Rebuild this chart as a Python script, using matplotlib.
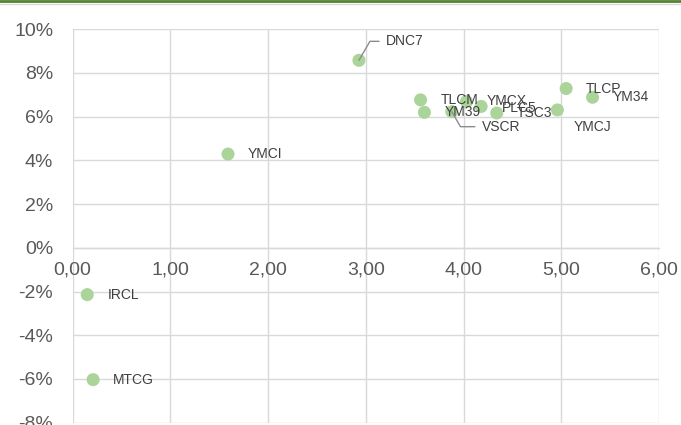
import matplotlib
matplotlib.use("Agg")
import matplotlib.pyplot as plt
from matplotlib.ticker import FuncFormatter, MultipleLocator
from matplotlib.lines import Line2D

# ---- data ----
names = ["DNC7", "YMCI", "IRCL", "MTCG", "TLCM", "YM39", "VSCR",
         "YMCX", "PLC5", "TSC3", "TLCP", "YM34", "YMCJ"]
x_vals = [2.93, 1.59, 0.15, 0.21, 3.56, 3.60, 3.88,
          4.03, 4.18, 4.34, 5.05, 5.32, 4.96]
y_vals = [8.58, 4.29, -2.14, -6.03, 6.77, 6.20, 6.23,
          6.69, 6.47, 6.17, 7.29, 6.89, 6.31]   # percent

# ---- label placement (pixels offset from point: dx, dy(down +), leader) ----
label_offsets = {
    "DNC7": (27, -19, True),
    "VSCR": (30, 15, True),
    "YMCJ": (16, 17, False),
    "PLC5": (21, 2, False),
    "YMCX": (20, -1, False),
}
default_offset = (20, 0, False)

DPI = 100
fig = plt.figure(figsize=(6.81, 4.25), dpi=DPI)
ax = fig.add_axes([0.1066, 0.0054, 0.8611, 0.9257])

grid_c = "#d9d9d9"
tick_c = "#595959"
lab_c = "#404040"

ax.scatter(x_vals, y_vals, s=88, color="#abd49a", edgecolors="none", zorder=3)

ax.set_xlim(0, 6)
ax.set_ylim(-8, 10)
ax.xaxis.set_major_locator(MultipleLocator(1))
ax.yaxis.set_major_locator(MultipleLocator(2))
ax.grid(True, color=grid_c, linewidth=1.0, zorder=0)
ax.set_axisbelow(True)

for s in ["top", "right", "left"]:
    ax.spines[s].set_visible(False)
ax.spines["bottom"].set_position(("data", 0))
ax.spines["bottom"].set_color(grid_c)
ax.spines["bottom"].set_linewidth(1.0)

ax.xaxis.set_major_formatter(FuncFormatter(lambda v, p: f"{v:.2f}".replace(".", ",")))
ax.yaxis.set_major_formatter(FuncFormatter(lambda v, p: f"{v:.0f}%"))
ax.tick_params(axis="x", length=0, pad=10, labelsize=14, labelcolor=tick_c)
ax.tick_params(axis="y", length=0, pad=14, labelsize=14, labelcolor=tick_c)
for t in ax.get_xticklabels() + ax.get_yticklabels():
    t.set_fontfamily("Liberation Sans")

pt = 72.0 / DPI
for n, xv, yv in zip(names, x_vals, y_vals):
    dx, dy, leader = label_offsets.get(n, default_offset)
    if leader:
        arrow = dict(arrowstyle="-", color="#8c8c8c", lw=1.0,
                     connectionstyle="angle,angleA=0,angleB=%d,rad=0" % (60 if dy < 0 else -60),
                     shrinkA=3, shrinkB=0)
    else:
        arrow = None
    ax.annotate(n, (xv, yv), xytext=(dx * pt, -dy * pt), textcoords="offset points",
                ha="left", va="center", fontsize=10, color=lab_c,
                family="Liberation Sans", zorder=4, arrowprops=arrow,
                annotation_clip=False)

# top border band
fig.add_artist(Line2D([0, 1], [0.997, 0.997], transform=fig.transFigure,
                      color="#548235", linewidth=2.0))
fig.add_artist(Line2D([0, 1], [0.990, 0.990], transform=fig.transFigure,
                      color="#d9d9d9", linewidth=1.0))

fig.savefig("out.png", dpi=DPI)
